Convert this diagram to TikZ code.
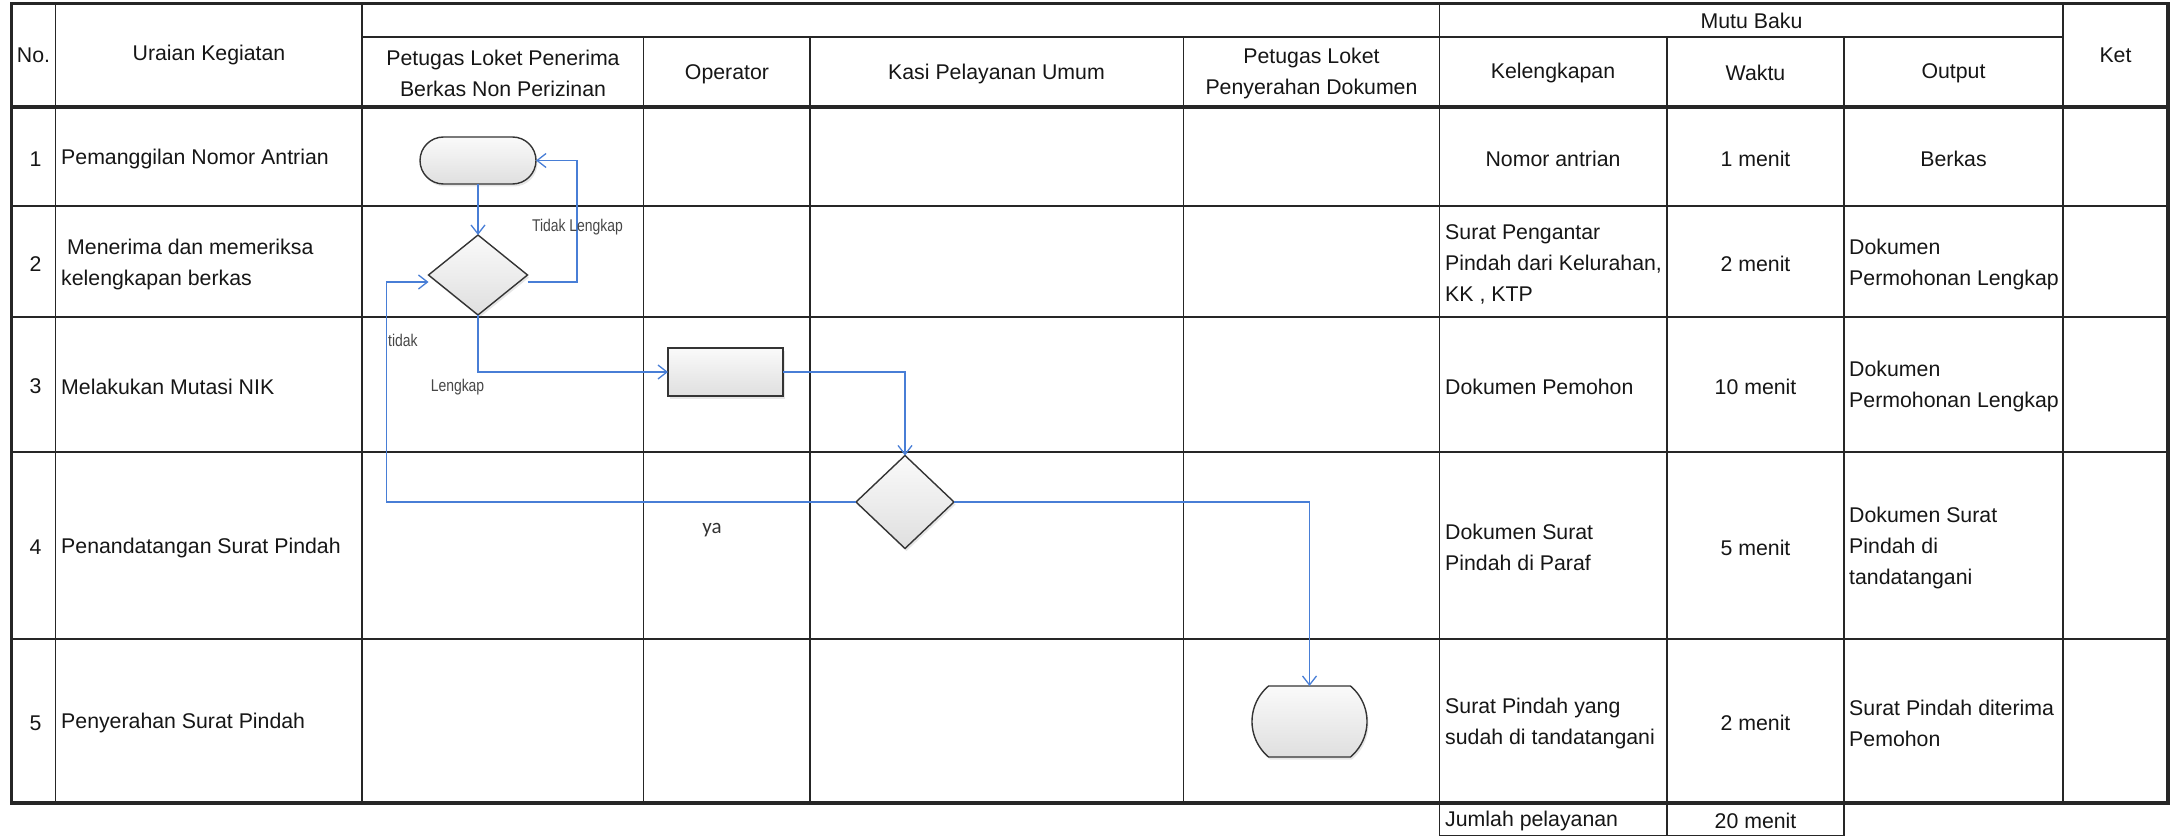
\documentclass[tikz,border=0pt]{standalone}
\usepackage{fontspec}
\setmainfont{Liberation Sans}
\newfontfamily\narrowfont{Liberation Sans}[FakeStretch=0.82]
\newfontfamily\calfont{Carlito}
\usetikzlibrary{shapes.geometric,shapes.misc,arrows.meta,shadows,calc}

\definecolor{flowblue}{RGB}{72,126,214}
\definecolor{gridline}{RGB}{38,38,38}
\definecolor{shapeedge}{RGB}{52,52,52}
\definecolor{inktext}{RGB}{22,22,22}

\begin{document}
\begin{tikzpicture}[x=1pt,y=-1pt,
  cell/.style={inner sep=0pt, text=inktext, font=\fontsize{21.3}{31}\selectfont},
  cellL/.style={cell, anchor=west, align=left},
  cellC/.style={cell, anchor=center, align=center},
  thinrule/.style={draw=gridline, line width=1.5pt},
  rowrule/.style={draw=gridline, line width=2pt},
  heavyrule/.style={draw=gridline, line width=3.4pt},
  flowshape/.style={draw=shapeedge, line width=1.4pt, top color=gray!4, bottom color=gray!25,
    drop shadow={shadow xshift=1.5pt, shadow yshift=-2.5pt, opacity=0.2},
    inner sep=0pt, outer sep=0pt},
  startstop/.style={flowshape, rounded rectangle, minimum width=116pt, minimum height=47pt},
  endcap/.style={flowshape, rounded rectangle, rounded rectangle arc length=100,
    minimum width=115pt, minimum height=71pt},
  procbox/.style={flowshape, rectangle, minimum width=115pt, minimum height=48pt},
  decision/.style={flowshape, diamond},
  flowarrow/.style={draw=flowblue, line width=1.3pt,
    -{Straight Barb[length=9pt,width=14pt,line width=1.3pt]}},
  tag/.style={inner sep=0pt, text=black!72, font=\narrowfont\fontsize{17}{20}\selectfont},
]
\useasboundingbox (0,0) rectangle (2174,837);

% ---- table grid ----
% column edges
\def\xA{11.5}\def\xB{55.5}\def\xC{362}\def\xD{643.5}\def\xE{810}
\def\xF{1183.5}\def\xG{1439.5}\def\xH{1667}\def\xI{1844}\def\xJ{2063}\def\xK{2168}
% row edges
\def\yA{3.5}\def\yM{37}\def\yB{107}\def\yC{206.5}\def\yD{316.5}
\def\yE{452}\def\yF{638.5}\def\yG{803}\def\yH{835.5}

% vertical rules
\foreach \x in {\xB,\xC,\xG,\xJ} \draw[thinrule] (\x,\yA) -- (\x,\yG);
\foreach \x in {\xD,\xE,\xF,\xH,\xI} \draw[thinrule] (\x,\yM) -- (\x,\yG);
% header sub-rule under the merged cells
\draw[thinrule] (\xC,\yM) -- (\xJ,\yM);
% row rules
\foreach \y in {\yC,\yD,\yE,\yF} \draw[rowrule] (\xA,\y) -- (\xK,\y);
% header bottom and outer frame
\draw[heavyrule] (\xA,\yB) -- (\xK,\yB);
\draw[heavyrule] (\xA,\yA) rectangle (\xK,\yG);
% total row below the table
\draw[thinrule] (\xG,\yG) -- (\xG,\yH) -- (\xI,\yH) -- (\xI,\yG);
\draw[thinrule] (\xH,\yG) -- (\xH,\yH);

% ---- header texts ----
\node[cellC] (hNo) at (33.5,55) {No.};
\node[cellC] (hUraian) at (209,55) {Uraian Kegiatan};
\node[cellC] (hLoketA) at (503,73.5) {Petugas Loket Penerima\\Berkas Non Perizinan};
\node[cellC] (hOperator) at (727,74) {Operator};
\node[cellC] (hKasi) at (996.5,74) {Kasi Pelayanan Umum};
\node[cellC] (hLoketB) at (1311.5,73.5) {Petugas Loket\\Penyerahan Dokumen};
\node[cellC] (hMutu) at (1751.5,21) {Mutu Baku};
\node[cellC] (hKel) at (1553,73) {Kelengkapan};
\node[cellC] (hWaktu) at (1755.5,73) {Waktu};
\node[cellC] (hOutput) at (1953.5,73) {Output};
\node[cellC] (hKet) at (2115.5,55) {Ket};

% ---- row 1 ----
\node[cellC] (n1) at (35.5,159) {1};
\node[cellL] (u1) at (61,159) {Pemanggilan Nomor Antrian};
\node[cellC] (k1) at (1553,159) {Nomor antrian};
\node[cellC] (w1) at (1755.5,159) {1 menit};
\node[cellC] (o1) at (1953.5,159) {Berkas};

% ---- row 2 ----
\node[cellC] (n2) at (35.5,264) {2};
\node[cellL] (u2) at (61,264) {\hspace*{6pt}Menerima dan memeriksa\\kelengkapan berkas};
\node[cellL] (k2) at (1445,264) {Surat Pengantar\\Pindah dari Kelurahan,\\KK , KTP};
\node[cellC] (w2) at (1755.5,264) {2 menit};
\node[cellL] (o2) at (1849,264) {Dokumen\\Permohonan Lengkap};

% ---- row 3 ----
\node[cellC] (n3) at (35.5,386.5) {3};
\node[cellL] (u3) at (61,386.5) {Melakukan Mutasi NIK};
\node[cellL] (k3) at (1445,386.5) {Dokumen Pemohon};
\node[cellC] (w3) at (1755.5,386.5) {10 menit};
\node[cellL] (o3) at (1849,386.5) {Dokumen\\Permohonan Lengkap};

% ---- row 4 ----
\node[cellC] (n4) at (35.5,547.5) {4};
\node[cellL] (u4) at (61,547.5) {Penandatangan Surat Pindah};
\node[cellL] (k4) at (1445,547.5) {Dokumen Surat\\Pindah di Paraf};
\node[cellC] (w4) at (1755.5,547.5) {5 menit};
\node[cellL] (o4) at (1849,547.5) {Dokumen Surat\\Pindah di\\tandatangani};

% ---- row 5 ----
\node[cellC] (n5) at (35.5,723) {5};
\node[cellL] (u5) at (61,723) {Penyerahan Surat Pindah};
\node[cellL] (k5) at (1445,723) {Surat Pindah yang\\sudah di tandatangani};
\node[cellC] (w5) at (1755.5,723) {2 menit};
\node[cellL] (o5) at (1849,723) {Surat Pindah diterima\\Pemohon};

% ---- total ----
\node[cellL] (jLabel) at (1445,821) {Jumlah pelayanan};
\node[cellC] (jTotal) at (1755.5,821) {20 menit};

% ---- flow shapes ----
\node[startstop] (start) at (478,160.5) {};
\node[decision, minimum width=99pt, minimum height=80pt] (check) at (478,275) {};
\node[procbox] (mutasi) at (725.5,372) {};
\node[decision, minimum width=98pt, minimum height=93pt] (sign) at (905,502) {};
\node[endcap] (finish) at (1309.5,721.5) {};

% loop rails and side entry points
\coordinate (railR) at (577,0);
\coordinate (railL) at (386.5,0);
\coordinate (checkIn) at ([yshift=-7pt]check.west);
\coordinate (checkOut) at ([yshift=-7pt]check.east);

% ---- connectors ----
\draw[flowarrow] (start.south) -- (check.north);
\draw[flowarrow] (checkOut) -| (railR |- start.east) -- (start.east);
\draw[flowarrow] (check.south) |- (mutasi.west);
\draw[flowarrow] (mutasi.east) -| (sign.north);
\draw[flowarrow] (sign.west) -| (railL |- checkIn) -- (checkIn);
\draw[flowarrow] (sign.east) -| (finish.north);

% ---- connector labels ----
\node[tag] (lblIncomplete) at (577.5,227) {Tidak Lengkap};
\node[tag, anchor=west] (lblNo) at (388,340) {tidak};
\node[tag] (lblComplete) at (457.5,387) {Lengkap};
\node[inner sep=0pt, text=black!80, font=\calfont\fontsize{21}{24}\selectfont] (lblYes) at (712,530) {ya};
\end{tikzpicture}
\end{document}
